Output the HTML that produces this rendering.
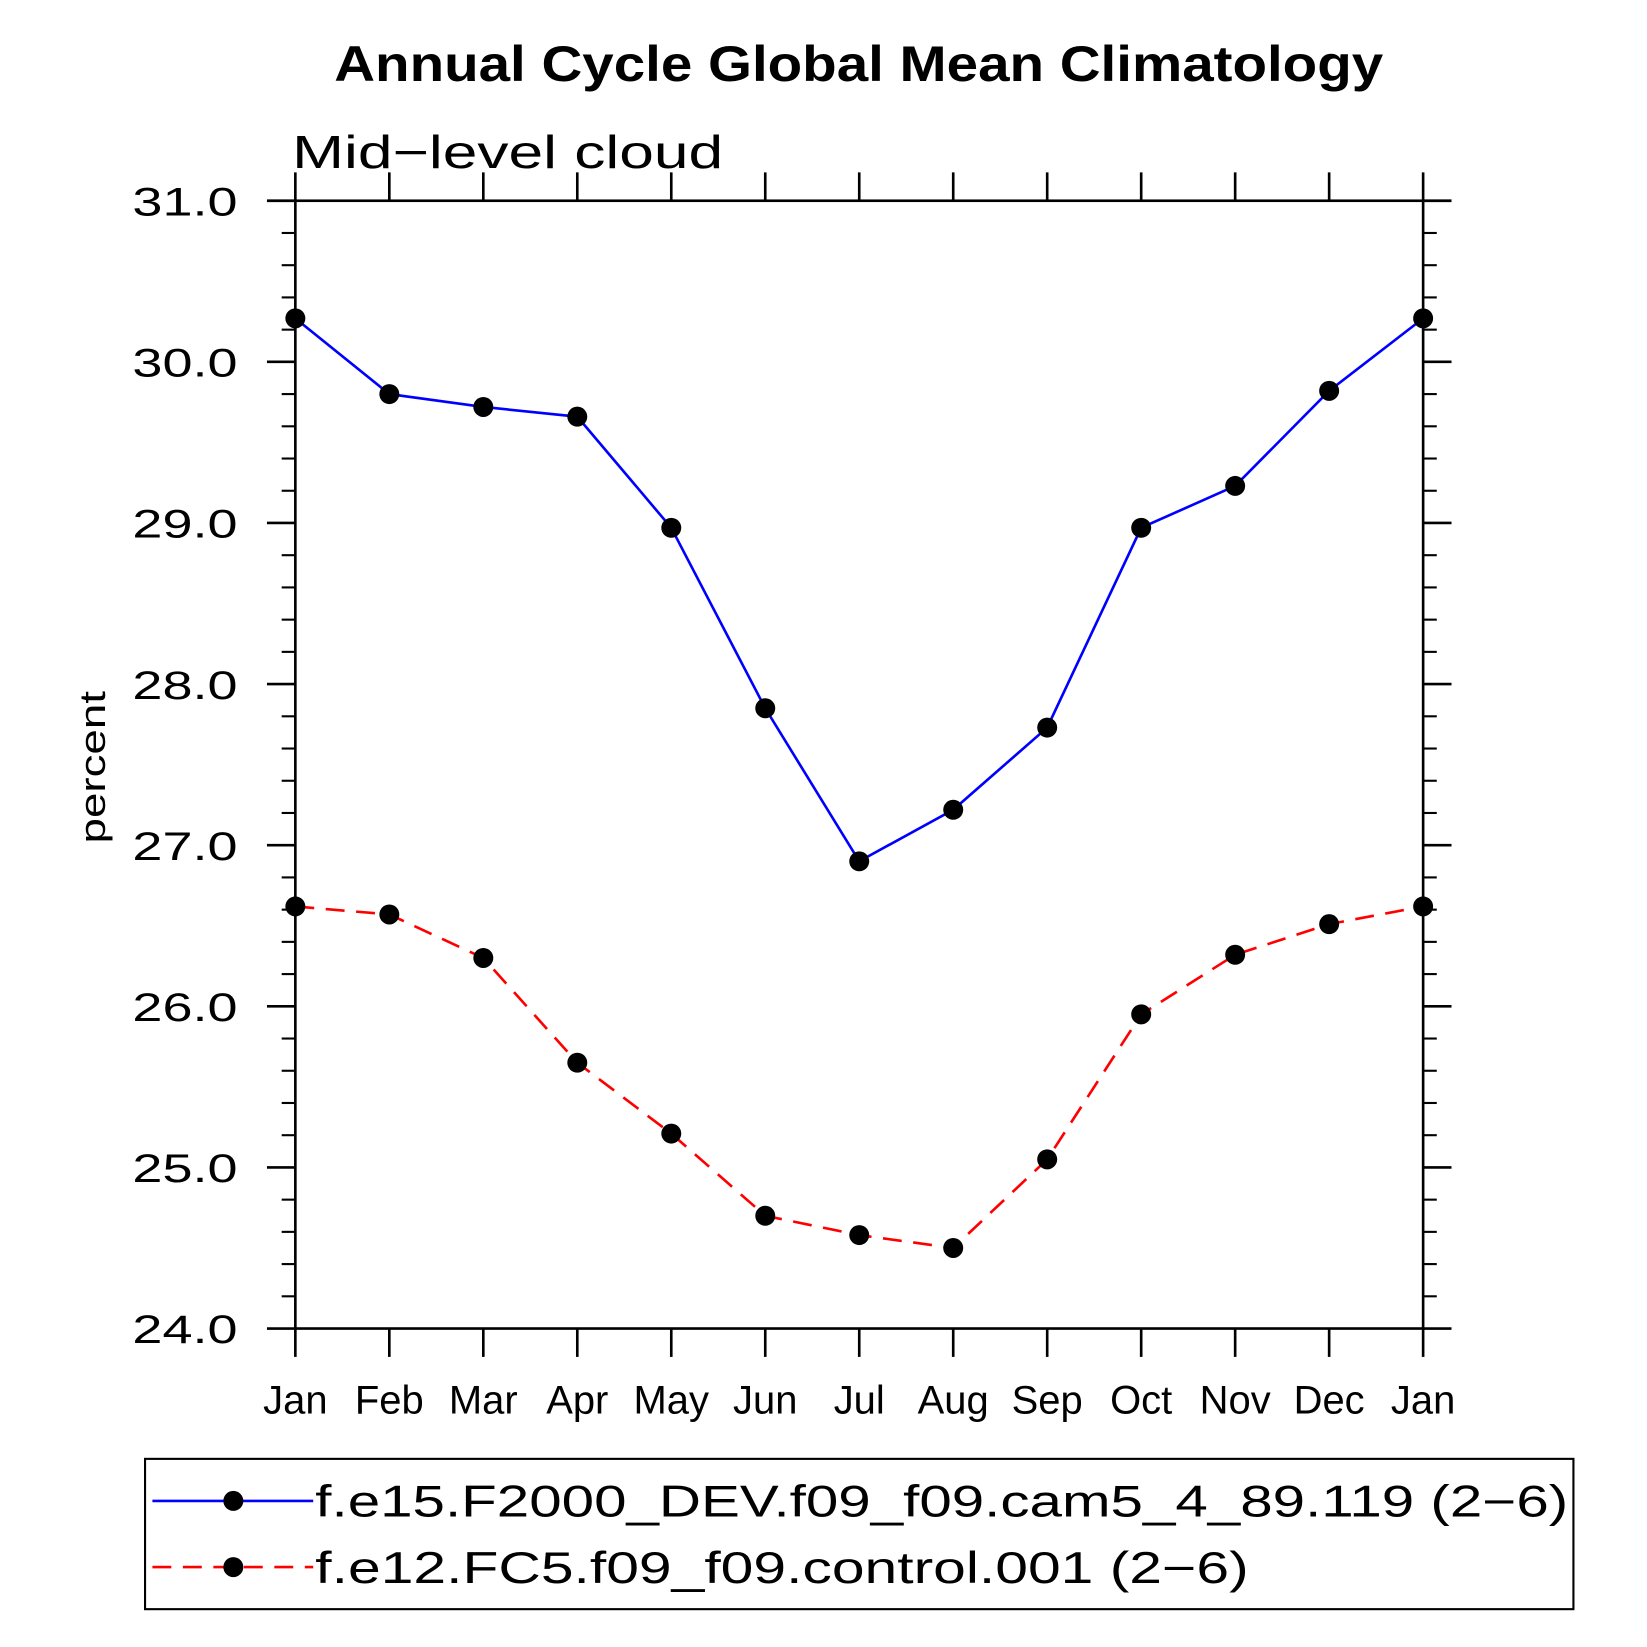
<!DOCTYPE html>
<html><head><meta charset="utf-8"><style>
html,body{margin:0;padding:0;background:#fff;}
svg{display:block;font-family:"Liberation Sans",sans-serif;}
</style></head><body>
<svg id="chart" width="1647" height="1647" viewBox="0 0 1567 1567" xmlns="http://www.w3.org/2000/svg">
<text x="817" y="77" text-anchor="middle" font-size="48" font-weight="bold" textLength="998" lengthAdjust="spacingAndGlyphs">Annual Cycle Global Mean Climatology</text>
<text x="278" y="160" font-size="44" font-weight="300" textLength="410" lengthAdjust="spacingAndGlyphs">Mid−level cloud</text>
<text transform="translate(100,730) rotate(-90)" text-anchor="middle" font-size="34" textLength="145" lengthAdjust="spacingAndGlyphs">percent</text>
<g id="axes"></g>
<g id="series"></g>
<g>
<rect x="138" y="1388" width="1359" height="143" fill="none" stroke="#000" stroke-width="2"/>
<g>
<line x1="145" y1="1428" x2="298" y2="1428" stroke="#0000ff" stroke-width="2.5"/>
<circle cx="222" cy="1428" r="9.5" fill="#000"/>
<text x="300" y="1443" font-size="42" textLength="1192" lengthAdjust="spacingAndGlyphs">f.e15.F2000_DEV.f09_f09.cam5_4_89.119 (2−6)</text>
</g>
<g>
<line x1="145" y1="1491" x2="298" y2="1491" stroke="#ff0000" stroke-width="2.5" stroke-dasharray="18,11"/>
<circle cx="222" cy="1491" r="9.5" fill="#000"/>
<text x="300" y="1506" font-size="42" textLength="888" lengthAdjust="spacingAndGlyphs">f.e12.FC5.f09_f09.control.001 (2−6)</text>
</g>
</g>
</svg>
<script>
const months = ["Jan","Feb","Mar","Apr","May","Jun","Jul","Aug","Sep","Oct","Nov","Dec","Jan"];
const modelValues = [30.27,29.80,29.72,29.66,28.97,27.85,26.90,27.22,27.73,28.97,29.23,29.82,30.27];
const controlValues = [26.62,26.57,26.30,25.65,25.21,24.70,24.58,24.50,25.05,25.95,26.32,26.51,26.62];
const yTicks = [24,25,26,27,28,29,30,31];
const yTickLabels = ["24.0","25.0","26.0","27.0","28.0","29.0","30.0","31.0"];

const NS = "http://www.w3.org/2000/svg";
const L = 281, R = 1354, T = 191, B = 1264, yMin = 24, yMax = 31;
function xScale(i){ return L + (R - L) * i / (months.length - 1); }
function yScale(v){ return B - (B - T) * (v - yMin) / (yMax - yMin); }
function mk(tag, attrs, parent){
  const e = document.createElementNS(NS, tag);
  for (const k in attrs) e.setAttribute(k, attrs[k]);
  parent.appendChild(e); return e;
}
const axes = document.getElementById('axes');
const frame = mk('rect', {x:L, y:T, width:R-L, height:B-T, fill:'none', stroke:'#000', 'stroke-width':2.5}, axes);


months.forEach((m, i) => {
  const x = xScale(i);
  mk('line', {x1:x, y1:B, x2:x, y2:B+27, stroke:'#000', 'stroke-width':2.5}, axes);
  mk('line', {x1:x, y1:T, x2:x, y2:T-27, stroke:'#000', 'stroke-width':2.5}, axes);
  const t = mk('text', {x:x, y:1345, 'text-anchor':'middle', 'font-size':38}, axes);
  t.textContent = m;
  
  
});
yTicks.forEach((v, i) => {
  const y = yScale(v);
  mk('line', {x1:L, y1:y, x2:L-27, y2:y, stroke:'#000', 'stroke-width':2.5}, axes);
  mk('line', {x1:R, y1:y, x2:R+27, y2:y, stroke:'#000', 'stroke-width':2.5}, axes);
  const t = mk('text', {x:226, y:y+14, 'text-anchor':'end', 'font-size':38, textLength:100, lengthAdjust:'spacingAndGlyphs'}, axes);
  t.textContent = yTickLabels[i];
  
  
  if (i < yTicks.length - 1) {
    for (let k = 1; k < 5; k++) {
      const ym = yScale(v + k * 0.2);
      mk('line', {x1:L, y1:ym, x2:L-13, y2:ym, stroke:'#000', 'stroke-width':2}, axes);
      mk('line', {x1:R, y1:ym, x2:R+13, y2:ym, stroke:'#000', 'stroke-width':2}, axes);
    }
  }
});
const series = document.getElementById('series');
function drawSeries(vals, color, dash, name){
  const g = mk('g', {}, series);
  
  
  const pts = vals.map((v, i) => xScale(i) + ',' + yScale(v)).join(' ');
  const attrs = {points:pts, fill:'none', stroke:color, 'stroke-width':2.5};
  if (dash) attrs['stroke-dasharray'] = dash;
  mk('polyline', attrs, g);
  vals.forEach((v, i) => {
    const c = mk('circle', {cx:xScale(i), cy:yScale(v), r:9.5, fill:'#000'}, g);
    
    
  });
}
drawSeries(modelValues, '#0000ff', null, 'model-series');
drawSeries(controlValues, '#ff0000', '18,11', 'control-series');
</script>
</body></html>
